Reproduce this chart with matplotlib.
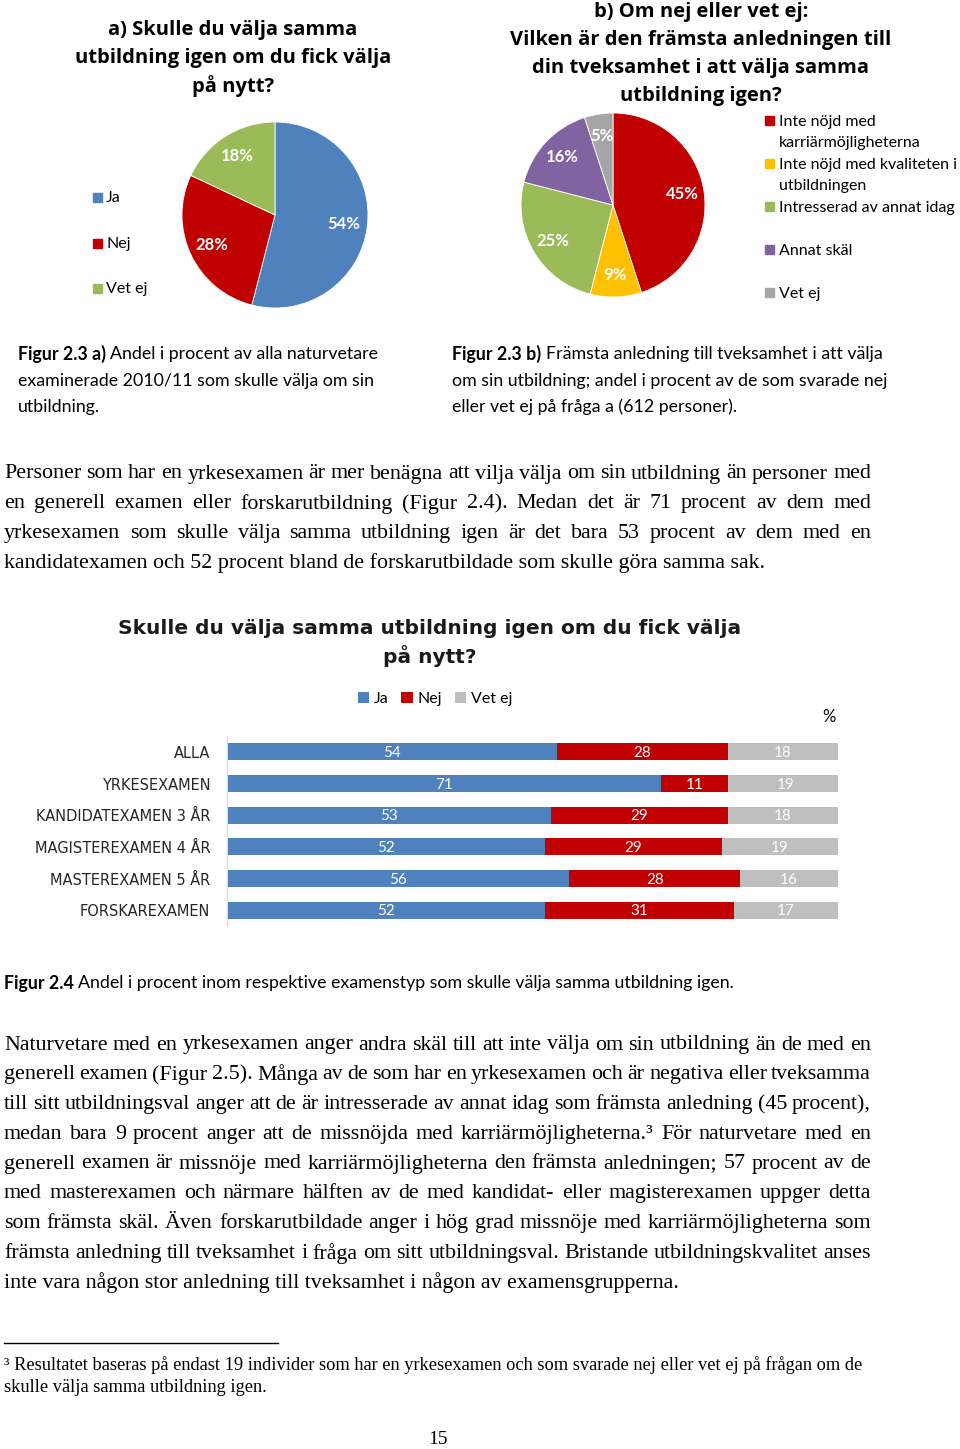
import matplotlib
matplotlib.use("Agg")
import matplotlib.pyplot as plt
from matplotlib.patches import Rectangle

# ---------------- data ----------------
pie_a_labels = ["Ja", "Nej", "Vet ej"]
pie_a_values = [54, 28, 18]

pie_b_labels = ["Inte nöjd med\nkarriärmöjligheterna",
                "Inte nöjd med kvaliteten i\nutbildningen",
                "Intresserad av annat idag",
                "Annat skäl",
                "Vet ej"]
pie_b_values = [45, 9, 25, 16, 5]

bar_categories = ["ALLA", "YRKESEXAMEN", "KANDIDATEXAMEN 3 ÅR",
                  "MAGISTEREXAMEN 4 ÅR", "MASTEREXAMEN 5 ÅR", "FORSKAREXAMEN"]
bar_series = ["Ja", "Nej", "Vet ej"]
bar_ja = [54, 71, 53, 52, 56, 52]
bar_nej = [28, 11, 29, 29, 28, 31]
bar_vetej = [18, 19, 18, 19, 16, 17]

# ---------------- style ----------------
W, H = 960, 1449
BLUE, RED, GREEN, PURPLE, YELLOW = "#4F81BD", "#C00000", "#9BBB59", "#8064A2", "#FFC000"
GRAY_PIE, GRAY_BAR = "#A5A5A5", "#BFBFBF"
SANS = ["Lato", "DejaVu Sans"]
TITLE = ["Open Sans", "DejaVu Sans"]
SERIF = ["Liberation Serif", "DejaVu Serif"]
TXT = "#000000"

fig = plt.figure(figsize=(W / 100, H / 100), dpi=100)
renderer = fig.canvas.get_renderer()


def fx(x):
    return x / W


def fy(y):
    return 1 - y / H


def px_width(t):
    bb = t.get_window_extent(renderer=renderer)
    return bb.width


def runs(x, y, parts, size, family, color=TXT):
    """draw consecutive text runs [(text, weight), ...] starting at pixel x"""
    cx = x
    for s, wgt in parts:
        t = fig.text(fx(cx), fy(y), s, fontsize=size, family=family,
                     weight=wgt, va="center", ha="left", color=color)
        cx += px_width(t)


def justified(x0, x1, y, line, size, family, justify=True):
    words = line.split(" ")
    if not justify:
        fig.text(fx(x0), fy(y), line, fontsize=size, family=family,
                 va="center", ha="left", color=TXT)
        return
    texts = [fig.text(fx(x0), fy(y), w, fontsize=size, family=family,
                      va="center", ha="left", color=TXT) for w in words]
    widths = [px_width(t) for t in texts]
    gap = (x1 - x0 - sum(widths)) / max(len(words) - 1, 1)
    cx = x0
    for t, w in zip(texts, widths):
        t.set_x(fx(cx))
        cx += w + gap


# ---------------- pie a ----------------
ax_a = fig.add_axes([fx(182), fy(308), 186 / W, 186 / H])
wedges_a, _, autot_a = ax_a.pie(pie_a_values, colors=[BLUE, RED, GREEN], startangle=90,
                                counterclock=False, autopct="%d%%", pctdistance=0.75,
                                wedgeprops=dict(edgecolor="white", linewidth=0.6))
for t in autot_a:
    t.set_color("white"); t.set_fontsize(12); t.set_weight("bold"); t.set_family(SANS)
ax_a.set_xlim(-1, 1); ax_a.set_ylim(-1, 1); ax_a.set_aspect("equal")

for i, (line) in enumerate(["a) Skulle du välja samma",
                            "utbildning igen om du fick välja", "på nytt?"]):
    fig.text(fx(233), fy(30 + 28 * i), line, fontsize=14.5, weight="bold",
             family=TITLE, ha="center", va="center", color="#000000")

leg_a_y = [198, 244, 289]
for lab, col, yy in zip(pie_a_labels, [BLUE, RED, GREEN], leg_a_y):
    fig.patches.append(Rectangle((fx(93), fy(yy + 4)), 9 / W, 9 / H, color=col,
                                 transform=fig.transFigure, figure=fig))
    fig.text(fx(106), fy(yy), lab, fontsize=11.5, family=SANS, va="center", ha="left")

# ---------------- pie b ----------------
ax_b = fig.add_axes([fx(521), fy(297), 184 / W, 184 / H])
colors_b = [RED, YELLOW, GREEN, PURPLE, GRAY_PIE]
wedges_b, _, autot_b = ax_b.pie(pie_b_values, colors=colors_b, startangle=90,
                                counterclock=False, autopct="%d%%", pctdistance=0.76,
                                wedgeprops=dict(edgecolor="white", linewidth=0.6))
for t in autot_b:
    t.set_color("white"); t.set_fontsize(12); t.set_weight("bold"); t.set_family(SANS)
ax_b.set_xlim(-1, 1); ax_b.set_ylim(-1, 1); ax_b.set_aspect("equal")

for i, line in enumerate(["b) Om nej eller vet ej:",
                          "Vilken är den främsta anledningen till",
                          "din tveksamhet i att välja samma", "utbildning igen?"]):
    fig.text(fx(701), fy(12 + 28 * i), line, fontsize=14.5, weight="bold",
             family=TITLE, ha="center", va="center", color="#000000")

leg_b_y = [121, 164, 207, 250, 293]
for lab, col, yy in zip(pie_b_labels, colors_b, leg_b_y):
    fig.patches.append(Rectangle((fx(765), fy(yy + 4)), 9 / W, 9 / H, color=col,
                                 transform=fig.transFigure, figure=fig))
    fig.text(fx(779), fy(yy - 6), lab, fontsize=11.5, family=SANS, va="top", ha="left",
             linespacing=1.68)

# ---------------- captions 2.3 ----------------
CAP = 12.8
runs(18, 354, [("Figur 2.3 a) ", "bold"), ("Andel i procent av alla naturvetare", "normal")], CAP, SANS)
runs(18, 381, [("examinerade 2010/11 som skulle välja om sin", "normal")], CAP, SANS)
runs(18, 407, [("utbildning.", "normal")], CAP, SANS)
runs(452, 354, [("Figur 2.3 b) ", "bold"), ("Främsta anledning till tveksamhet i att välja", "normal")], CAP, SANS)
runs(452, 381, [("om sin utbildning; andel i procent av de som svarade nej", "normal")], CAP, SANS)
runs(452, 407, [("eller vet ej på fråga a (612 personer).", "normal")], CAP, SANS)

# ---------------- paragraph 1 ----------------
BODY = 15.8
para1 = ["Personer som har en yrkesexamen är mer benägna att vilja välja om sin utbildning än personer med",
         "en generell examen eller forskarutbildning (Figur 2.4). Medan det är 71 procent av dem med",
         "yrkesexamen som skulle välja samma utbildning igen är det bara 53 procent av dem med en",
         "kandidatexamen och 52 procent bland de forskarutbildade som skulle göra samma sak."]
for i, line in enumerate(para1):
    justified(4, 871, 474 + 29.7 * i, line, BODY, SERIF, justify=(i < len(para1) - 1))

# ---------------- bar chart ----------------
fig.text(fx(430), fy(628), "Skulle du välja samma utbildning igen om du fick välja",
         fontsize=14.5, weight="bold", family=["DejaVu Sans"], ha="center", va="center",
         color="#1a1a1a")
fig.text(fx(430), fy(656), "på nytt?", fontsize=14.5, weight="bold", family=["DejaVu Sans"],
         ha="center", va="center", color="#1a1a1a")

ax = fig.add_axes([fx(227), fy(926), 611 / W, 190 / H])
ypos = list(range(len(bar_categories)))
left = [0] * len(bar_categories)
handles = []
for vals, col, name in zip([bar_ja, bar_nej, bar_vetej], [BLUE, RED, GRAY_BAR], bar_series):
    b = ax.barh(ypos, vals, left=left, height=0.54, color=col, label=name)
    handles.append(b)
    for yv, l, v in zip(ypos, left, vals):
        ax.text(l + v / 2, yv + 0.04, str(v), color="white", ha="center", va="center",
                fontsize=11, family=SANS)
    left = [l + v for l, v in zip(left, vals)]
ax.set_xlim(0, 100)
ax.set_ylim(len(bar_categories) - 0.5, -0.5)
ax.set_yticks(ypos)
ax.set_yticklabels(bar_categories, fontsize=10.5, family=["DejaVu Sans"], color="#262626")
ax.tick_params(axis="y", length=0, pad=12)
ax.set_xticks([])
for s in ["top", "right", "bottom"]:
    ax.spines[s].set_visible(False)
ax.spines["left"].set_color("#D9D9D9")
leg = fig.legend(handles=handles, loc="center", bbox_to_anchor=(fx(435), fy(699)), ncol=3,
                 frameon=False, handlelength=0.7, handleheight=0.7, handletextpad=0.3,
                 columnspacing=0.8, prop={"family": SANS, "size": 11.5})
fig.text(fx(829), fy(717), "%", fontsize=12, family=SANS, ha="center", va="center")

runs(4, 983, [("Figur 2.4 ", "bold"),
              ("Andel i procent inom respektive examenstyp som skulle välja samma utbildning igen.", "normal")],
     CAP, SANS)

# ---------------- paragraph 2 ----------------
para2 = ["Naturvetare med en yrkesexamen anger andra skäl till att inte välja om sin utbildning än de med en",
         "generell examen (Figur 2.5). Många av de som har en yrkesexamen och är negativa eller tveksamma",
         "till sitt utbildningsval anger att de är intresserade av annat idag som främsta anledning (45 procent),",
         "medan bara 9 procent anger att de missnöjda med karriärmöjligheterna.³ För naturvetare med en",
         "generell examen är missnöje med karriärmöjligheterna den främsta anledningen; 57 procent av de",
         "med masterexamen och närmare hälften av de med kandidat- eller magisterexamen uppger detta",
         "som främsta skäl. Även forskarutbildade anger i hög grad missnöje med karriärmöjligheterna som",
         "främsta anledning till tveksamhet i fråga om sitt utbildningsval. Bristande utbildningskvalitet anses",
         "inte vara någon stor anledning till tveksamhet i någon av examensgrupperna."]
for i, line in enumerate(para2):
    justified(4, 871, 1045 + 29.75 * i, line, BODY, SERIF, justify=(i < len(para2) - 1))

# ---------------- footnote ----------------
fig.add_artist(plt.Line2D([fx(4), fx(278)], [fy(1343), fy(1343)], color="black", linewidth=1.0,
                          transform=fig.transFigure))
fig.text(fx(4), fy(1365), "³ Resultatet baseras på endast 19 individer som har en yrkesexamen och som svarade nej eller vet ej på frågan om de",
         fontsize=13.2, family=SERIF, va="center", ha="left")
fig.text(fx(4), fy(1387), "skulle välja samma utbildning igen.", fontsize=13.2, family=SERIF,
         va="center", ha="left")
fig.text(fx(438), fy(1440), "15", fontsize=14, family=SERIF, va="center", ha="center")

fig.savefig("out.png", dpi=100, facecolor="white")
